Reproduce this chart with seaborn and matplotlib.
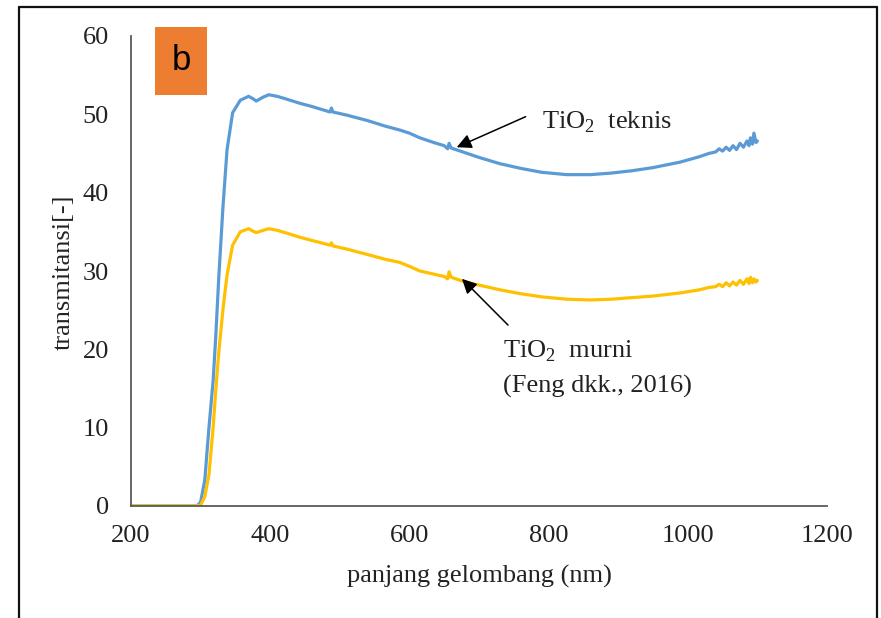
import matplotlib
matplotlib.use("Agg")
import matplotlib.pyplot as plt
from matplotlib.patches import Rectangle
from matplotlib.lines import Line2D
import seaborn as sns
import pandas as pd

# ---- data ----
wavelength = [200, 250, 290, 295, 300, 306, 312, 318, 322, 326, 332, 338, 346, 357,
              369, 375, 380, 390, 398, 410, 425, 443, 460, 486, 488, 490, 510, 540,
              565, 586, 600, 615, 635, 650, 655, 657, 660, 680, 700, 730, 760, 790,
              826, 860, 890, 920, 950, 989, 1017, 1030, 1040, 1045, 1050, 1055, 1060,
              1065, 1070, 1075, 1080, 1085, 1088, 1090, 1093, 1095, 1098, 1100]
tio2_teknis = [0, 0, 0, 0, 0.5, 3.3, 10, 16, 22, 29, 38, 45.5, 50.2, 51.8,
               52.3, 52.0, 51.7, 52.2, 52.5, 52.3, 51.9, 51.4, 51.0, 50.3, 50.8, 50.3, 49.9, 49.2,
               48.5, 48.0, 47.6, 47.0, 46.4, 46.0, 45.6, 46.3, 45.7, 45.1, 44.5, 43.7, 43.1, 42.6,
               42.3, 42.3, 42.5, 42.8, 43.2, 43.9, 44.6, 45.0, 45.2, 45.6, 45.3, 45.8, 45.4,
               46.0, 45.5, 46.3, 45.8, 46.6, 46.0, 47.0, 46.2, 47.6, 46.4, 46.6]
tio2_murni = [0, 0, 0, 0, 0.1, 1.2, 4, 10, 15, 19.5, 25, 29.5, 33.3, 35.0,
              35.4, 35.1, 34.9, 35.2, 35.4, 35.2, 34.8, 34.3, 33.9, 33.3, 33.6, 33.2, 32.8, 32.1,
              31.5, 31.1, 30.6, 30.0, 29.6, 29.3, 29.0, 29.9, 29.2, 28.6, 28.2, 27.6, 27.1, 26.7,
              26.4, 26.3, 26.4, 26.6, 26.8, 27.2, 27.6, 27.9, 28.0, 28.3, 28.0, 28.5, 28.1,
              28.6, 28.2, 28.8, 28.3, 29.0, 28.4, 29.2, 28.5, 29.0, 28.6, 28.8]
x_ticks = [200, 400, 600, 800, 1000, 1200]
y_ticks = [0, 10, 20, 30, 40, 50, 60]

df = pd.DataFrame({"wl": wavelength, "teknis": tio2_teknis, "murni": tio2_murni})

sns.set_theme(style="white")
plt.rcParams["font.family"] = ["Liberation Serif", "DejaVu Serif"]
plt.rcParams["mathtext.fontset"] = "custom"
plt.rcParams["mathtext.rm"] = "Liberation Serif"

W, H = 881, 618
fig = plt.figure(figsize=(W / 100, H / 100), dpi=100)
fig.patch.set_facecolor("white")
ax = fig.add_axes([131 / W, 1 - 506 / H, 696 / W, 470 / H])

sns.lineplot(data=df, x="wl", y="teknis", ax=ax, color="#5B9BD5", lw=2.3, estimator=None)
sns.lineplot(data=df, x="wl", y="murni", ax=ax, color="#FFC000", lw=2.3, estimator=None)

ax.set_xlim(200, 1200)
ax.set_ylim(0, 60)
ax.set_xticks(x_ticks)
ax.set_yticks(y_ticks)
ax.tick_params(axis="both", length=0, labelsize=19, colors="#222222")
ax.tick_params(axis="x", pad=14)
ax.tick_params(axis="y", pad=16)
ax.set_xlabel("")
ax.set_ylabel("")
for s in ["top", "right"]:
    ax.spines[s].set_visible(False)
for s in ["left", "bottom"]:
    ax.spines[s].set_color("#595959")
    ax.spines[s].set_linewidth(1.3)
ax.grid(False)

fig.text(479 / W, 1 - 576 / H, "panjang gelombang (nm)", ha="center", va="center",
         fontsize=19, color="#222222")
fig.text(64 / W, 1 - 272 / H, "transmitansi[-]", ha="center", va="center",
         rotation=90, fontsize=19, color="#222222")

# annotations
ax.annotate("", xy=(668, 45.8), xytext=(767, 49.7),
            arrowprops=dict(arrowstyle="-|>", color="black", lw=1.1,
                            mutation_scale=22, shrinkA=0, shrinkB=0))
ax.text(790, 49.0, r"TiO$_\mathregular{2}$  teknis", ha="left", va="center",
        fontsize=19, color="#222222")
ax.annotate("", xy=(675.6, 29.0), xytext=(741.7, 23.1),
            arrowprops=dict(arrowstyle="-|>", color="black", lw=1.1,
                            mutation_scale=22, shrinkA=0, shrinkB=0))
ax.text(734.5, 19.7, r"TiO$_\mathregular{2}$  murni", ha="left", va="center",
        fontsize=19, color="#222222")
ax.text(734.5, 15.2, "(Feng dkk., 2016)", ha="left", va="center",
        fontsize=19, color="#222222")

# orange "b" badge
fig.patches.append(Rectangle((155 / W, 1 - 95 / H), 52 / W, 68 / H,
                             transform=fig.transFigure, facecolor="#ED7D31",
                             edgecolor="none"))
fig.text(181 / W, 1 - 61 / H, "b", ha="center", va="center", fontsize=25,
         family=["Liberation Sans", "DejaVu Sans"], color="black")

# outer frame
frame_kw = dict(transform=fig.transFigure, color="#111111", lw=1.6)
fig.lines.append(Line2D([19 / W, 19 / W], [0, 1 - 7 / H], **frame_kw))
fig.lines.append(Line2D([19 / W, 877 / W], [1 - 7 / H, 1 - 7 / H], **frame_kw))
fig.lines.append(Line2D([877 / W, 877 / W], [0, 1 - 7 / H], **frame_kw))

fig.savefig("out.png", dpi=100)
